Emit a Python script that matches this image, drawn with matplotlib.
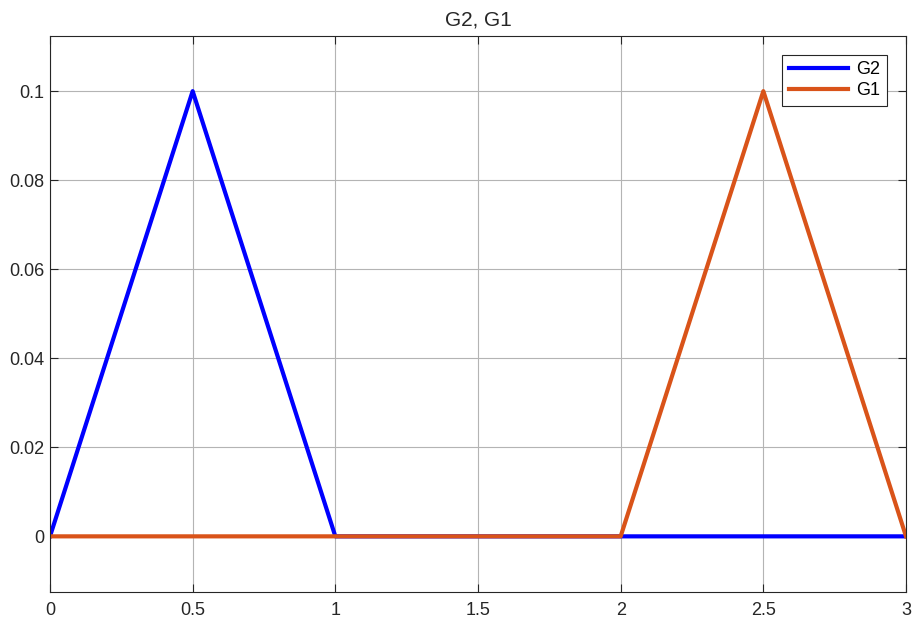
import numpy as np
import matplotlib.pyplot as plt

plt.rcParams['font.family'] = ['Liberation Sans', 'DejaVu Sans']

# triangle pulses
t_g2 = [0, 0.5, 1, 3]
g2 = [0, 0.1, 0, 0]
t_g1 = [0, 2, 2.5, 3]
g1 = [0, 0, 0.1, 0]

xticks = [0, 0.5, 1, 1.5, 2, 2.5, 3]
yticks = [0, 0.02, 0.04, 0.06, 0.08, 0.1]

fig = plt.figure(figsize=(9.13, 6.19), dpi=100)
ax = fig.add_axes([50/913, 27/619, 856/913, 556.5/619])

ax.plot(t_g2, g2, color='#0000ff', lw=3, label='G2')
ax.plot(t_g1, g1, color='#d95319', lw=3, label='G1')

ax.set_xlim(0, 3)
ax.set_ylim(-0.0125, 0.1125)
ax.set_xticks(xticks)
ax.set_xticklabels(['0', '0.5', '1', '1.5', '2', '2.5', '3'])
ax.set_yticks(yticks)
ax.set_yticklabels(['0', '0.02', '0.04', '0.06', '0.08', '0.1'])
ax.grid(True, color='#b4b4b4', lw=0.8)
ax.tick_params(direction='in', top=True, right=True, length=6,
               labelsize=13, color='#262626', labelcolor='#262626')
ax.tick_params(axis='y', pad=4)
ax.tick_params(axis='x', pad=7)
for s in ax.spines.values():
    s.set_color('#262626')
    s.set_linewidth(0.8)
ax.set_title('G2, G1', fontsize=15, color='#262626', pad=7)

leg = ax.legend(loc='upper right', bbox_to_anchor=(0.9774, 0.9658), fontsize=13,
                fancybox=False, framealpha=1, edgecolor='#262626',
                handlelength=3.3, borderpad=0.35, labelspacing=0.25,
                handletextpad=0.45, borderaxespad=0)
leg.get_frame().set_linewidth(0.8)

fig.savefig('out.png', dpi=100)
